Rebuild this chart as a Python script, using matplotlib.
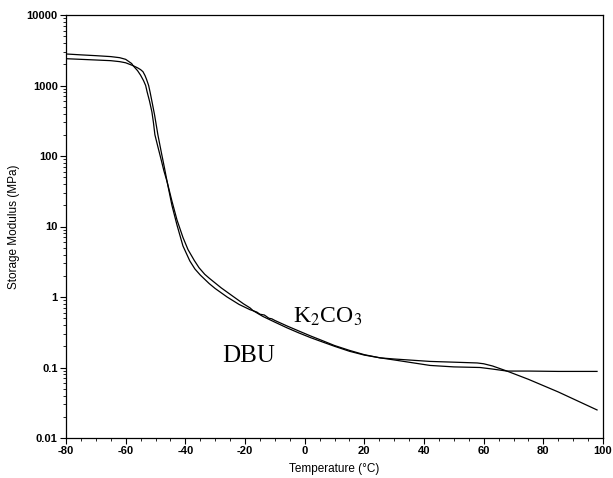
import matplotlib
matplotlib.use("Agg")
import matplotlib.pyplot as plt
from matplotlib.ticker import FixedLocator, MultipleLocator, LogLocator, NullFormatter

plt.rcParams['mathtext.fontset'] = 'stix'

# Curve A (starts higher, ends flat)
temp_a = [-80, -75, -70, -65, -62, -60, -58, -57.5, -56, -55, -54, -53.3, -52.8, -52,
          -51.2, -50.7, -50.2, -49.2, -48.2, -47.2, -46.1, -44.5, -42.8, -40.8, -39.1,
          -37, -35.4, -33.5, -32, -28, -24, -20.5, -18.3, -17.3, -14, -10, -5.9, -2,
          2, 6, 10, 15, 20, 25.3, 30, 42, 50, 58.8, 63, 67.8, 75, 85, 98]
mod_a = [2800, 2720, 2650, 2570, 2480, 2350, 2050, 1910, 1620, 1400, 1170, 1000, 809, 600,
         421, 300, 200, 135, 92, 62, 43, 23, 12.4, 7.0, 4.7,
         3.3, 2.6, 2.1, 1.85, 1.35, 1.02, 0.8, 0.70, 0.64, 0.53, 0.44, 0.365, 0.31,
         0.265, 0.23, 0.2, 0.17, 0.15, 0.137, 0.128, 0.107, 0.102, 0.1, 0.095, 0.089, 0.089, 0.088, 0.088]

# Curve B (starts lower, drops at high temperature)
temp_b = [-80, -75, -70, -65, -62, -60, -57.5, -56, -55, -54.2, -53.5, -53, -52.3, -51.8,
          -51, -50.3, -49.2, -48, -47, -46.1, -44.5, -42.8, -40.8, -38.5,
          -36.8, -35, -32, -30, -26, -22, -18.3, -17.3, -16, -15, -13.5, -12, -11, -10,
          -5.9, -2, 2, 6, 10, 15, 20, 25.3, 30, 42, 50, 57.8, 60, 63, 67.8, 75, 85, 98]
mod_b = [2400, 2350, 2300, 2250, 2180, 2100, 1910, 1780, 1680, 1570, 1380, 1220, 1000, 800,
         540, 380, 200, 110, 68, 43, 20, 10.5, 5.3, 3.25,
         2.5, 2.05, 1.55, 1.32, 1.0, 0.785, 0.66, 0.64, 0.61, 0.57, 0.555, 0.5, 0.49, 0.465,
         0.388, 0.33, 0.28, 0.24, 0.205, 0.175, 0.152, 0.137, 0.132, 0.122, 0.119, 0.116, 0.113, 0.105, 0.089, 0.068, 0.045, 0.025]

x_ticks = [-80, -60, -40, -20, 0, 20, 40, 60, 80, 100]
y_ticks = [0.01, 0.1, 1, 10, 100, 1000, 10000]
y_tick_labels = ['0.01', '0.1', '1', '10', '100', '1000', '10000']

fig = plt.figure(figsize=(6.13, 4.78), dpi=100)
ax = fig.add_axes([66/613, 1 - 438/478, (603 - 66)/613, (438 - 15)/478])

ax.plot(temp_a, mod_a, color='black', lw=0.9)
ax.plot(temp_b, mod_b, color='black', lw=0.9)

ax.set_yscale('log')
ax.set_xlim(-80, 100)
ax.set_ylim(0.01, 10000)

ax.xaxis.set_major_locator(FixedLocator(x_ticks))
ax.xaxis.set_minor_locator(MultipleLocator(5))
ax.yaxis.set_major_locator(FixedLocator(y_ticks))
ax.yaxis.set_minor_locator(LogLocator(base=10, subs=range(2, 10), numticks=20))
ax.yaxis.set_minor_formatter(NullFormatter())
ax.set_yticklabels(y_tick_labels)
ax.set_xticklabels([str(t) for t in x_ticks])

ax.tick_params(which='major', direction='out', length=4, width=0.8, pad=2)
ax.tick_params(which='minor', direction='out', length=2, width=0.6)
for lab in ax.get_xticklabels() + ax.get_yticklabels():
    lab.set_fontfamily('Liberation Sans')
    lab.set_fontweight('bold')
    lab.set_fontsize(8)

for s in ax.spines.values():
    s.set_linewidth(0.9)

ax.set_xlabel('Temperature (°C)', fontfamily='Liberation Sans', fontsize=8.5, labelpad=5)
ax.set_ylabel('Storage Modulus (MPa)', fontfamily='Liberation Sans', fontsize=8.5, labelpad=5)

ax.text(-27.7, 0.12, 'DBU', fontfamily='Liberation Serif', fontsize=18, ha='left', va='baseline')
ax.text(-3.9, 0.43, 'K$_2$CO$_3$', fontfamily='Liberation Serif', fontsize=17, ha='left', va='baseline')

fig.savefig('out.png', dpi=100)
